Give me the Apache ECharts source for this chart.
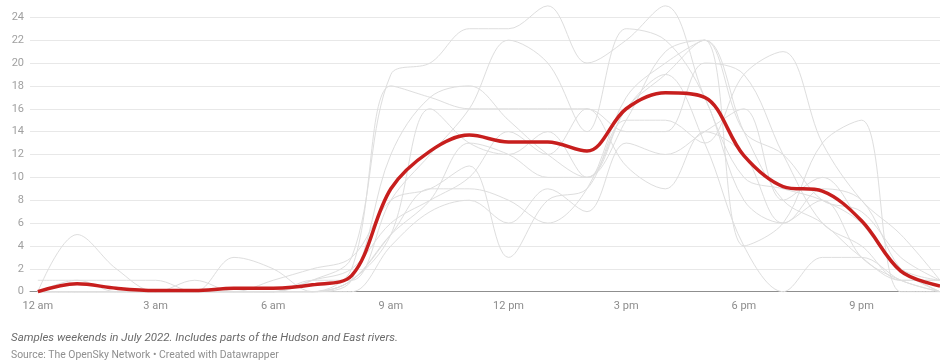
<!DOCTYPE html>
<html>
<head>
<meta charset="utf-8">
<script src="https://cdn.jsdelivr.net/npm/echarts@6/dist/echarts.min.js"></script>
<style>
html,body{margin:0;padding:0;background:#fff;}
#chart{width:940px;height:362px;}
</style>
</head>
<body>
<div id="chart"></div>
<script>
// Hours of the day (0 = 12 am)
const hours = [0,1,2,3,4,5,6,7,8,9,10,11,12,13,14,15,16,17,18,19,20,21,22,23];
const tickHours = [0,3,6,9,12,15,18,21];
const tickLabels = ['12 am','3 am','6 am','9 am','12 pm','3 pm','6 pm','9 pm'];
const yTicks = [0,2,4,6,8,10,12,14,16,18,20,22,24];

// Average (highlighted)
const average = [0,0.7,0.3,0.1,0.1,0.3,0.3,0.6,1.4,9.0,12.3,13.7,13.1,13.1,12.3,16.0,17.4,17.0,11.9,9.2,8.8,6.2,1.8,0.5];

// Individual weekend days (light grey)
const day1  = [0,5,2,0,0,0,0,0,1,12,17,18,15,12,10,15,21,22,14,8,6,3,1,1];
const day2  = [1,1,0,0,0,0,0,1,3,19,20,23,23,25,20,22,25,17,10,9,8,6,2,0];
const day3  = [0,1,1,1,0,0,0,0,2,18,17,16,16,16,16,14,14,20,19,12,6,4,1,1];
const day4  = [0,0,0,0,1,0,0,1,1,8,12,16,22,20,14,23,22,17,8,6,9,8,2,0];
const day5  = [0,0,0,0,0,3,2,0,1,5,9,9,8,6,9,17,20,22,4,6,13,15,0,0];
const day6  = [0,0,0,0,0,0,1,2,3,8,9,11,3,8,9,15,15,13,19,21,13,8,5,1];
const day7  = [0,0,0,0,0,0,0,1,2,6,8,10,14,12,16,11,9,14,12,6,8,3,1,0];
const day8  = [0,0,0,0,0,0,0,0,1,5,16,13,12,14,10,16,19,22,14,12,8,7,3,1];
const day9  = [0,0,0,0,0,0,0,0,0,4,7,8,6,9,7,13,12,14,16,8,10,6,2,1];
const day10 = [0,0,0,0,0,0,0,0,1,5,8,13,12,10,10,16,19,13,4,0,3,3,1,0];
const days = [day1,day2,day3,day4,day5,day6,day7,day8,day9,day10];

const noteText = 'Samples weekends in July 2022. Includes parts of the Hudson and East rivers.';
const sourceText = 'Source: The OpenSky Network \u2022 Created with Datawrapper';

const pairs = arr => hours.map((h,i) => [h, arr[i]]);

const series = days.map(d => ({
  type: 'line',
  data: pairs(d),
  smooth: 0.35,
  symbol: 'none',
  clip: false,
  silent: true,
  lineStyle: {color: '#dedede', width: 1},
  z: 2
}));
series.push({
  type: 'line',
  data: pairs(average),
  smooth: 0.35,
  symbol: 'none',
  clip: false,
  lineStyle: {color: '#c71e1d', width: 3.5},
  z: 5
});

const chart = echarts.init(document.getElementById('chart'), null, {renderer: 'canvas'});
chart.setOption({
  animation: false,
  backgroundColor: '#fff',
  textStyle: {fontFamily: 'Roboto'},
  grid: {left: 30, right: 0, top: 17.3, bottom: 70.3, containLabel: false},
  xAxis: {
    type: 'value',
    min: -0.2,
    max: 23,
    splitLine: {show: false},
    axisTick: {show: false},
    axisLine: {show: true, lineStyle: {color: '#8f8f8f', width: 1}},
    axisLabel: {
      customValues: tickHours,
      formatter: v => tickLabels[tickHours.indexOf(v)] || '',
      color: '#8c8c8c',
      fontSize: 11,
      fontFamily: 'Roboto',
      margin: 9
    }
  },
  yAxis: {
    type: 'value',
    min: 0,
    max: 24,
    interval: 2,
    axisLine: {show: false},
    axisTick: {show: false},
    splitLine: {lineStyle: {color: '#e8e8e8', width: 1}},
    axisLabel: {
      formatter: v => yTicks.includes(v) ? String(v) : '',
      color: '#a0a0a0',
      fontSize: 11,
      fontFamily: 'Roboto',
      margin: 6
    }
  },
  series: series,
  graphic: [
    {type: 'text', left: 11, top: 332, style: {text: noteText, fill: '#6b6b6b', font: 'italic 11.5px Roboto'}},
    {type: 'text', left: 11, top: 350, style: {text: sourceText, fill: '#8f8f8f', font: '10.4px Roboto'}}
  ]
});
</script>
</body>
</html>
